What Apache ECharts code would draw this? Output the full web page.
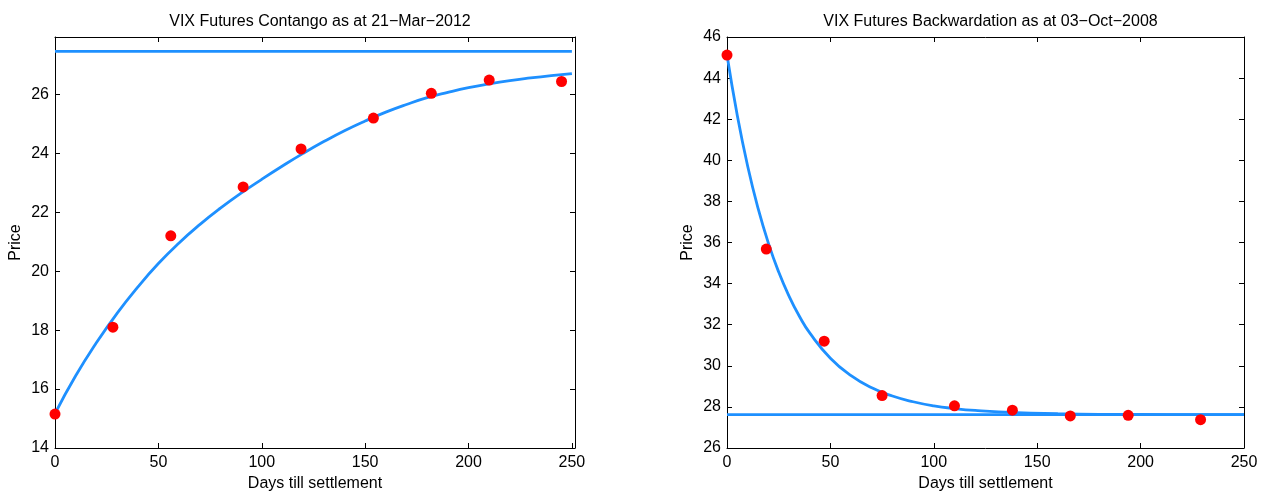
<!DOCTYPE html>
<html>
<head>
<meta charset="utf-8">
<script src="https://cdn.jsdelivr.net/npm/echarts@6/dist/echarts.min.js"></script>
<style>
html,body{margin:0;padding:0;background:#ffffff;}
#chart{width:1264px;height:491px;}
</style>
</head>
<body>
<div id="chart"></div>
<script>
// ---- Data: Contango (21-Mar-2012) ----
const contangoDays   = [0, 28, 56, 91, 119, 154, 182, 210, 245];
const contangoPrices = [15.15, 18.10, 21.20, 22.86, 24.15, 25.20, 26.04, 26.49, 26.44];
const contangoFitDays   = [0,10,20,30,40,50,60,70,80,90,100,110,120,130,140,150,160,170,180,190,200,210,220,230,240,250];
const contangoFitPrices = [15.17,16.45,17.57,18.57,19.46,20.26,20.96,21.58,22.14,22.65,23.12,23.57,24.00,24.40,24.77,25.10,25.40,25.66,25.89,26.07,26.23,26.36,26.47,26.56,26.64,26.71];
const contangoMean = 27.46;

// ---- Data: Backwardation (03-Oct-2008) ----
const backDays   = [0, 19, 47, 75, 110, 138, 166, 194, 229];
const backPrices = [45.12, 35.68, 31.20, 28.55, 28.05, 27.84, 27.56, 27.59, 27.38];
const backFitDays   = [0,5,10,15,20,25,30,35,40,50,60,70,80,90,100,110,120,140,160,180,200,225,250];
const backFitPrices = [45.12,42.17,39.71,37.67,35.97,34.56,33.39,32.41,31.60,30.37,29.52,28.93,28.53,28.25,28.05,27.92,27.83,27.72,27.67,27.64,27.63,27.62,27.62];
const backMean = 27.62;

const meanSpan = [0, 250];

// ---- Text ----
const titles = ['VIX Futures Contango as at 21\u2212Mar\u22122012', 'VIX Futures Backwardation as at 03\u2212Oct\u22122008'];
const xName = 'Days till settlement';
const yName = 'Price';

const zip = (xs, ys) => xs.map((x, i) => [x, ys[i]]);

const FONT = 'Liberation Sans, Arial, Helvetica, sans-serif';
const BLUE = '#1e90ff';
const RED = '#ff0000';
const FS = 16;

const grids = [
  {left: 55, top: 37, width: 520, height: 411},
  {left: 727, top: 37, width: 517, height: 411}
];
const xRanges = [[0, 251.5], [0, 250]];
const yRanges = [[14, 27.95], [26, 46]];

function fmtX(v) { return (Math.abs(v % 50) < 1e-9) ? String(v) : ''; }
function fmtY(v) { return (Math.abs(v % 2) < 1e-9) ? String(v) : ''; }

const tick = {show: true, inside: true, length: 5, lineStyle: {color: '#000', width: 1}};
const axLine = {show: true, onZero: false, lineStyle: {color: '#000', width: 1}};

const xAxes = [], yAxes = [];
grids.forEach((g, i) => {
  xAxes.push({
    type: 'value', gridIndex: i, position: 'bottom',
    min: xRanges[i][0], max: xRanges[i][1], interval: 50,
    axisLine: axLine, axisTick: tick, splitLine: {show: false},
    axisLabel: {show: true, margin: 7, color: '#000', fontSize: FS, fontFamily: FONT, formatter: fmtX, showMaxLabel: true},
    name: xName, nameLocation: 'middle', nameGap: 25,
    nameTextStyle: {color: '#000', fontSize: FS, fontFamily: FONT}
  });
  xAxes.push({
    type: 'value', gridIndex: i, position: 'top',
    min: xRanges[i][0], max: xRanges[i][1], interval: 50,
    axisLine: axLine, axisTick: tick, splitLine: {show: false},
    axisLabel: {show: false}
  });
  yAxes.push({
    type: 'value', gridIndex: i, position: 'left',
    min: yRanges[i][0], max: yRanges[i][1], interval: 2,
    axisLine: axLine, axisTick: tick, splitLine: {show: false},
    axisLabel: {show: true, margin: 6, color: '#000', fontSize: FS, fontFamily: FONT, formatter: fmtY},
    name: yName, nameLocation: 'middle', nameGap: 31,
    nameTextStyle: {color: '#000', fontSize: FS, fontFamily: FONT}
  });
  yAxes.push({
    type: 'value', gridIndex: i, position: 'right',
    min: yRanges[i][0], max: yRanges[i][1], interval: 2,
    axisLine: axLine, axisTick: tick, splitLine: {show: false},
    axisLabel: {show: false}
  });
});

const lineStyle = {color: BLUE, width: 2.8};
function fitSeries(ax, days, prices) {
  return {type: 'line', xAxisIndex: ax * 2, yAxisIndex: ax * 2, data: zip(days, prices),
    showSymbol: false, symbol: 'none', smooth: true, lineStyle: lineStyle, itemStyle: {color: BLUE}, z: 2, silent: true};
}
function meanSeries(ax, mean) {
  return {type: 'line', xAxisIndex: ax * 2, yAxisIndex: ax * 2, data: meanSpan.map(d => [d, mean]),
    showSymbol: false, symbol: 'none', lineStyle: lineStyle, itemStyle: {color: BLUE}, z: 2, silent: true};
}
function pointSeries(ax, days, prices) {
  return {type: 'scatter', xAxisIndex: ax * 2, yAxisIndex: ax * 2, data: zip(days, prices),
    symbol: 'circle', symbolSize: 11, itemStyle: {color: RED, opacity: 1}, z: 3, silent: true};
}

const option = {
  backgroundColor: '#ffffff',
  animation: false,
  textStyle: {fontFamily: FONT},
  title: titles.map((t, i) => ({
    text: t,
    left: grids[i].left + grids[i].width / 2,
    textAlign: 'center',
    top: 9,
    textStyle: {color: '#000', fontSize: FS, fontWeight: 'normal', fontFamily: FONT}
  })),
  grid: grids.map(g => Object.assign({outerBoundsMode: 'none', containLabel: false}, g)),
  xAxis: xAxes,
  yAxis: yAxes,
  series: [
    meanSeries(0, contangoMean),
    fitSeries(0, contangoFitDays, contangoFitPrices),
    pointSeries(0, contangoDays, contangoPrices),
    meanSeries(1, backMean),
    fitSeries(1, backFitDays, backFitPrices),
    pointSeries(1, backDays, backPrices)
  ]
};

const chart = echarts.init(document.getElementById('chart'), null, {renderer: 'canvas'});
chart.setOption(option);
</script>
</body>
</html>
